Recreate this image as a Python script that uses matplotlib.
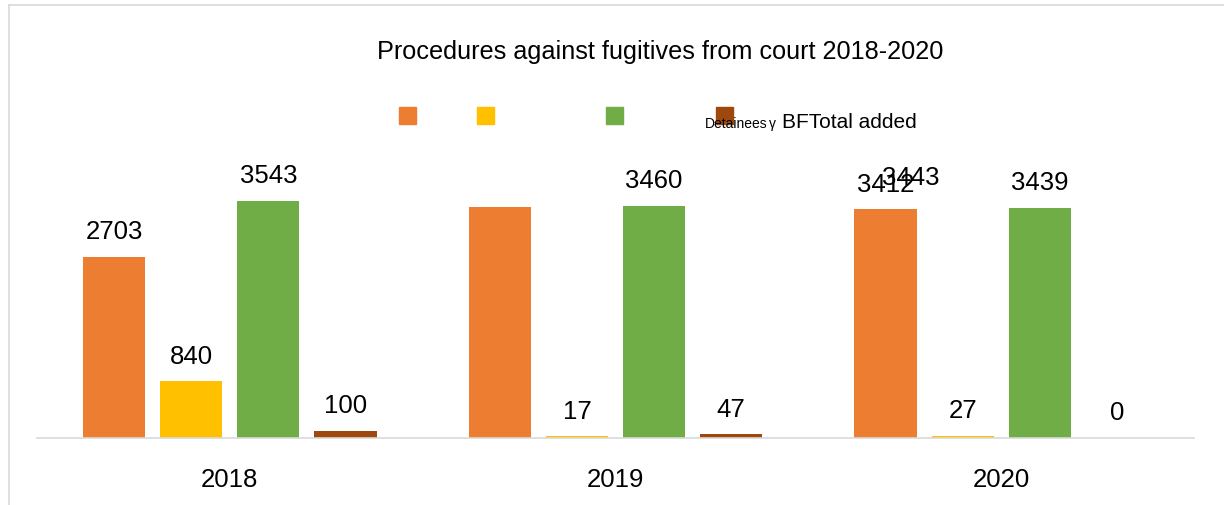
import matplotlib
matplotlib.use("Agg")
import matplotlib.pyplot as plt
from matplotlib.patches import Rectangle

plt.rcParams['font.family'] = ['Liberation Sans', 'DejaVu Sans']

years = ["2018", "2019", "2020"]
series_names = ["Fugitives", "Detainees", "Total added", "BF"]
fugitives = [2703, 3443, 3412]
detainees = [840, 17, 27]
total_added = [3543, 3460, 3439]
bf = [100, 47, 0]
series_values = [fugitives, detainees, total_added, bf]
colors = ["#ED7D31", "#FFC000", "#70AD47", "#9E480E"]
title = "Procedures against fugitives from court 2018-2020"

W, H = 1224, 506
fig = plt.figure(figsize=(W / 100, H / 100), dpi=100)

# outer light frame
fig.add_artist(plt.Line2D([9 / W, 9 / W], [0, 1 - 6 / H], color="#d9d9d9", lw=1.2,
                          transform=fig.transFigure))
fig.add_artist(plt.Line2D([9 / W, 1], [1 - 6 / H, 1 - 6 / H], color="#d9d9d9", lw=1.2,
                          transform=fig.transFigure))

ax = fig.add_axes([37 / W, (H - 438.5) / H, (1194 - 37) / W, (438.5 - 171.1) / H])
bar_w = 0.161
step = 0.2
for i, vals in enumerate(series_values):
    xs = [j + (i - 1.5) * step for j in range(len(years))]
    ax.bar(xs, vals, width=bar_w, color=colors[i], label=series_names[i], zorder=2)

# data labels
lab_fs = 18.5
for i, vals in enumerate(series_values):
    for j, v in enumerate(vals):
        x = j + (i - 1.5) * step
        if i == 0 and j == 1:
            # this label is displaced onto the 2020 group in the reference
            ax.annotate(str(v), (2 + (i - 1.5) * step, v), xytext=(18, 21.5),
                        textcoords="offset points", ha="center", va="center",
                        fontsize=lab_fs, color="black")
            continue
        ax.annotate(str(v), (x, v), xytext=(0, 18.6), textcoords="offset points",
                    ha="center", va="center", fontsize=lab_fs, color="black")

ax.set_xlim(-0.5, 2.5)
ax.set_ylim(0, 4000)
ax.set_xticks(range(len(years)))
ax.set_xticklabels(years, fontsize=lab_fs)
ax.tick_params(axis="x", length=0, pad=21)
ax.set_yticks([])
for s in ["top", "right", "left"]:
    ax.spines[s].set_visible(False)
ax.spines["bottom"].set_color("#d9d9d9")
ax.spines["bottom"].set_linewidth(1.2)
ax.patch.set_alpha(0)

fig.text(660 / W, 1 - 52 / H, title, ha="center", va="center", fontsize=18.2)

# legend swatches
sq = 17
for xpx, c in zip([399, 477, 606, 716], colors):
    fig.add_artist(Rectangle((xpx / W, 1 - 125 / H), sq / W, sq / H, color=c,
                             transform=fig.transFigure))
fig.text(705 / W, 1 - 128 / H, "Detainees", ha="left", va="baseline", fontsize=10)
fig.text(769 / W, 1 - 128 / H, "γ", ha="left", va="baseline", fontsize=10)
fig.text(782 / W, 1 - 128 / H, "BFTotal added", ha="left", va="baseline", fontsize=15)

fig.savefig("out.png", dpi=100)
